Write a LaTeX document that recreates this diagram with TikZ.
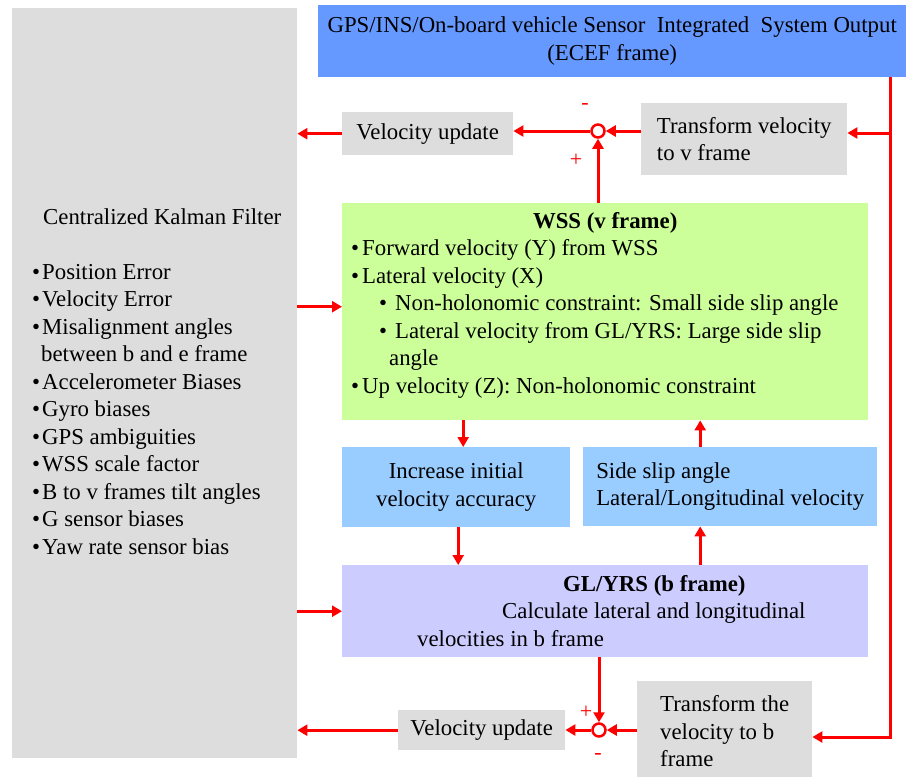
\documentclass[tikz,border=0pt]{standalone}
\usepackage{fontspec}
\setmainfont{Liberation Serif}
\usetikzlibrary{arrows.meta,positioning}
\definecolor{kfgray}{RGB}{221,221,221}
\definecolor{hdrblue}{RGB}{102,153,255}
\definecolor{wssgreen}{RGB}{204,255,153}
\definecolor{ltblue}{RGB}{153,204,255}
\definecolor{glpurple}{RGB}{204,204,255}
\newcommand{\kfitem}[1]{\hspace*{20pt}\makebox[10pt][l]{\textbullet}#1}
\newcommand{\wssitem}[1]{\hspace*{9pt}\makebox[11pt][l]{\textbullet}#1}
\newcommand{\wsssub}[1]{\hspace*{37pt}\makebox[16pt][l]{\textbullet}#1}

\begin{document}
\begin{tikzpicture}[x=1pt,y=-1pt,font=\fontsize{22.8}{27.5}\selectfont]
      \tikzstyle{every node}+=[inner sep=0pt]
      \tikzstyle{box}=[rectangle,anchor=north west]
      \tikzstyle{flow}=[red,line width=3pt,-{Triangle[length=10pt,width=11pt]}]
      \tikzstyle{sum}=[circle,draw=red,line width=2.5pt,fill=white,minimum size=13pt]
      \tikzstyle{sgn}=[red,font=\fontsize{22}{22}\selectfont]
      \useasboundingbox (0,0) rectangle (906,777);
      \node[box,fill=kfgray] (kf) at (12,8) {\parbox[t][750pt][t]{285pt}{\raggedright
        \vspace*{197pt}\strut\hspace*{31pt}Centralized Kalman Filter\\[27.5pt]
        \kfitem{Position Error}\\
        \kfitem{Velocity Error}\\
        \kfitem{Misalignment angles}\\
        \hspace*{29pt}between b and e frame\\
        \kfitem{Accelerometer Biases}\\
        \kfitem{Gyro biases}\\
        \kfitem{GPS ambiguities}\\
        \kfitem{WSS scale factor}\\
        \kfitem{B to v frames tilt angles}\\
        \kfitem{G sensor biases}\\
        \kfitem{Yaw rate sensor bias}}};
      \node[box,fill=hdrblue,minimum width=588pt,minimum height=72pt,align=center] (hdr) at (318,5)
        {GPS/INS/On-board vehicle Sensor\ \ Integrated\ \ System Output\\(ECEF frame)};
      \node[box,fill=kfgray,minimum width=206pt,minimum height=72pt,align=left] (tv) at (641,103)
        {Transform velocity\\to v frame};
      \node[box,fill=kfgray,minimum width=171pt,minimum height=43pt] (vut) at (342,112) {Velocity update};
      \node[sum] (sumt) at (598,131) {};
      \node[sgn] (minust) at (585,106) {-};
      \node[sgn] (plust) at (576,160) {+};
      \node[box,fill=wssgreen] (wss) at (342,203) {\parbox[t][217pt][t]{526pt}{\raggedright
        \vspace*{6pt}\strut\makebox[526pt]{\textbf{WSS (v frame)}}\\
        \wssitem{Forward velocity (Y) from WSS}\\
        \wssitem{Lateral velocity (X)}\\
        \wsssub{Non-holonomic constraint: Small side slip angle}\\
        \wsssub{Lateral velocity from GL/YRS: Large side slip}\\
        \hspace*{47pt}angle\\
        \wssitem{Up velocity (Z): Non-holonomic constraint}}};
      \node[box,fill=ltblue,minimum width=228pt,minimum height=80pt,align=center] (inc) at (342,447)
        {Increase initial\\velocity accuracy};
      \node[box,fill=ltblue,minimum width=294pt,minimum height=79pt,align=left] (ss) at (583,447)
        {Side slip angle\\Lateral/Longitudinal velocity};
      \node[box,fill=glpurple] (gl) at (342,565) {\parbox[t][92pt][t]{526pt}{\raggedright
        \vspace*{7pt}\strut\hspace*{221pt}\textbf{GL/YRS (b frame)}\\
        \hspace*{160pt}Calculate lateral and longitudinal\\
        \hspace*{75pt}velocities in b frame}};
      \node[box,fill=kfgray,minimum width=175pt,minimum height=100pt,align=left] (tvb) at (637,681)
        {Transform the\\velocity to b\\frame};
      \node[box,fill=kfgray,minimum width=167pt,minimum height=40pt] (vub) at (398,710) {Velocity update};
      \node[sum] (sumb) at (599,730) {};
      \node[sgn] (plusb) at (586,712) {+};
      \node[sgn] (minusb) at (598,756) {-};
      \coordinate (rtop) at (890,133);
      \coordinate (rbot) at (890,737);
      \coordinate (wssin) at ([yshift=5pt]wss.west);
      \coordinate (incin) at ([xshift=7pt]inc.north);
      \coordinate (glin) at ([xshift=2pt]inc.south);
      \coordinate (ssin) at ([xshift=-30pt]ss.south);
      \coordinate (wssup) at ([xshift=-30pt]ss.north);
      \draw[flow] (hdr.south -| rbot) -- (rbot) -- (rbot -| tvb.east);
      \draw[flow] (rtop) -- (rtop -| tv.east);
      \draw[flow] (tv.west |- sumt) -- (sumt.east);
      \draw[flow] (sumt.west) -- (sumt.west -| vut.east);
      \draw[flow] (vut.west) -- (vut.west -| kf.east);
      \draw[flow] (wss.north -| sumt) -- (sumt.south);
      \draw[flow] (wssin -| kf.east) -- (wssin);
      \draw[flow] (incin |- wss.south) -- (incin);
      \draw[flow] (glin) -- (glin |- gl.north);
      \draw[flow] (ssin |- gl.north) -- (ssin);
      \draw[flow] (wssup) -- (wssup |- wss.south);
      \draw[flow] (gl.west -| kf.east) -- (gl.west);
      \draw[flow] (gl.south -| sumb) -- (sumb.north);
      \draw[flow] (tvb.west |- sumb) -- (sumb.east);
      \draw[flow] (sumb.west) -- (sumb.west -| vub.east);
      \draw[flow] (vub.west) -- (vub.west -| kf.east);
      \end{tikzpicture}
\end{document}
